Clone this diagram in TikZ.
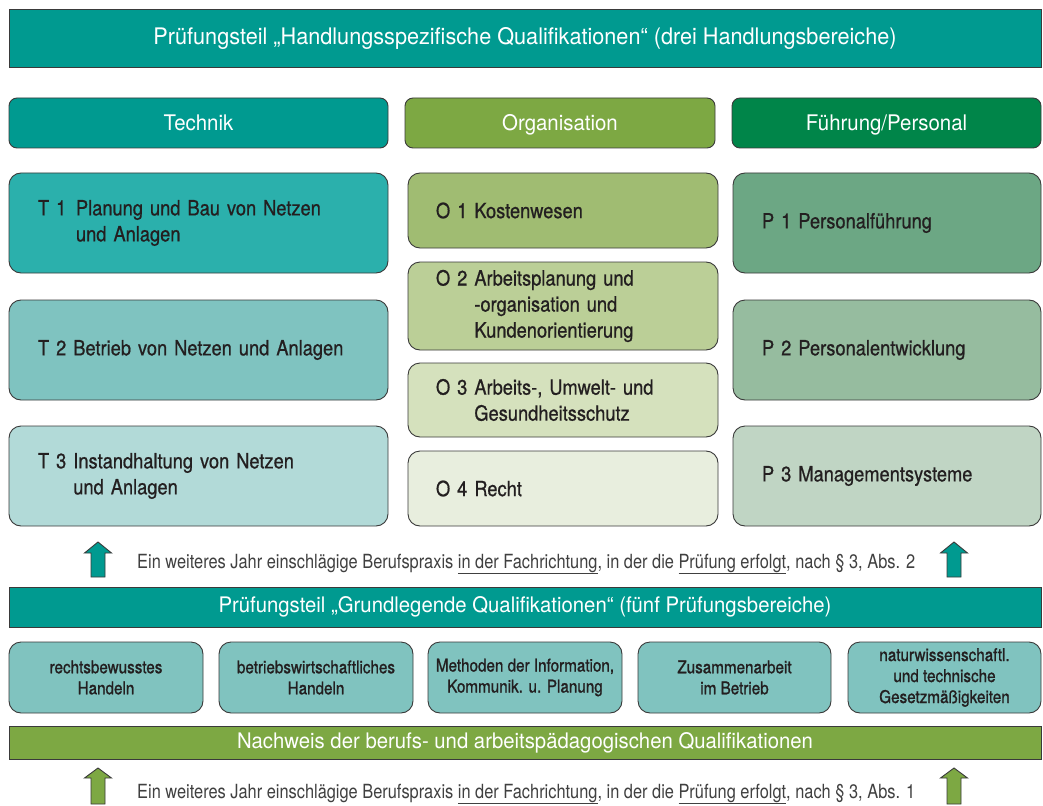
\documentclass[tikz,border=0pt]{standalone}
\usepackage{fontspec}
\setmainfont{TeX Gyre Heros}[FakeStretch=0.87, FakeBold=0.7]
\newfontfamily\headfont{TeX Gyre Heros}[FakeStretch=0.95]
\newfontfamily\notefont{TeX Gyre Heros}[FakeStretch=0.84]
\newfontfamily\partfont{TeX Gyre Heros}[FakeStretch=0.87, FakeBold=1.1]
\definecolor{lineclr}{HTML}{3A3A3A}
\definecolor{inkclr}{HTML}{231F20}
\definecolor{noteclr}{HTML}{404040}
\definecolor{tealmain}{HTML}{009A90}
\definecolor{greenmain}{HTML}{7DA843}
\definecolor{greendark}{HTML}{008549}
\definecolor{tA}{HTML}{2BB0AC}
\definecolor{tB}{HTML}{7FC3C0}
\definecolor{tC}{HTML}{B2DAD8}
\definecolor{oA}{HTML}{A0BC72}
\definecolor{oB}{HTML}{BBCF97}
\definecolor{oC}{HTML}{D5E1BD}
\definecolor{oD}{HTML}{E8EEDE}
\definecolor{pA}{HTML}{6CA784}
\definecolor{pB}{HTML}{96BC9F}
\definecolor{pC}{HTML}{C0D5C4}
\definecolor{basebox}{HTML}{80C3BF}
\begin{document}
\begin{tikzpicture}[x=1pt,y=-1pt,
  bx/.style={draw=lineclr, line width=0.9pt, anchor=north west, outer sep=0pt, inner ysep=0pt},
  banner/.style={bx, minimum width=1032pt, text=white, font=\headfont\fontsize{21.4}{26}\selectfont},
  headbox/.style={bx, rounded corners=8pt, minimum height=50pt, text height=19.6pt, text depth=4pt, text=white, font=\headfont\fontsize{21.5}{26}\selectfont},
  itembox/.style={bx, rounded corners=12pt, align=left, inner xsep=29pt, text=inkclr, font=\fontsize{21}{26}\selectfont},
  tbox/.style={itembox, text width=321pt, minimum height=100pt},
  obox/.style={itembox, inner xsep=28pt, text width=254pt},
  pbox/.style={itembox, text width=250pt, minimum height=100pt},
  basepart/.style={bx, rounded corners=12pt, fill=basebox, minimum height=71pt, align=center, text=inkclr, font=\partfont\fontsize{17.5}{21}\selectfont},
  note/.style={anchor=base west, inner sep=0pt, text=noteclr, font=\notefont\fontsize{19.5}{24}\selectfont},
  uparrow/.style={draw=lineclr, line width=0.9pt, line join=miter}
]
\useasboundingbox (0,0) rectangle (1043,805);
\fill[white] (0,0) rectangle (1043,805);

% top banner
\node[banner, fill=tealmain, minimum height=58pt, font=\headfont\fontsize{22.8}{26}\selectfont] (spec) at (9,9)
  {Prüfungsteil „Handlungsspezifische Qualifikationen“ (drei Handlungsbereiche)};

% column headers
\node[headbox, fill=tealmain, minimum width=379pt] (htech) at (9,98) {Technik};
\node[headbox, fill=greenmain, minimum width=310pt] (horg) at (405,98) {Organisation};
\node[headbox, fill=greendark, minimum width=309pt] (hpers) at (732,98) {Führung/Personal};

% Technik
\node[tbox, fill=tA] (t1) at (9,173)
  {\makebox[38pt][l]{T 1}Planung und Bau von Netzen\\\hspace*{38pt}und Anlagen};
\node[tbox, fill=tB] (t2) at (9,300) {T 2 Betrieb von Netzen und Anlagen};
\node[tbox, fill=tC] (t3) at (9,426)
  {T 3 Instandhaltung von Netzen\\\hspace*{0pt}\phantom{T 3 }und Anlagen};

% Organisation
\node[obox, fill=oA, minimum height=75pt] (o1) at (408,173) {O 1 Kostenwesen};
\node[obox, fill=oB, minimum height=88pt] (o2) at (408,262)
  {O 2 Arbeitsplanung und\\\hspace*{0pt}\phantom{O 2 }-organisation und\\\hspace*{0pt}\phantom{O 2 }Kundenorientierung};
\node[obox, fill=oC, minimum height=74pt] (o3) at (408,363)
  {O 3 Arbeits-, Umwelt- und\\\hspace*{0pt}\phantom{O 3 }Gesundheitsschutz};
\node[obox, fill=oD, minimum height=75pt] (o4) at (408,451) {O 4 Recht};

% Führung/Personal
\node[pbox, fill=pA] (p1) at (733,173) {P 1 Personalführung};
\node[pbox, fill=pB] (p2) at (733,300) {P 2 Personalentwicklung};
\node[pbox, fill=pC] (p3) at (733,426) {P 3 Managementsysteme};

% practice requirement, second stage
\node[note] (req2) at (137,568)
  {Ein weiteres Jahr einschlägige Berufspraxis \underline{in der Fachrichtung}, in der die \underline{Prüfung erfolgt}, nach § 3, Abs. 2};
\draw[uparrow, fill=tealmain] (98,542) -- (111.5,553) -- (105,553) -- (105,577) -- (91,577) -- (91,553) -- (84.5,553) -- cycle;
\draw[uparrow, fill=tealmain] (954,542) -- (967.5,553) -- (961,553) -- (961,577) -- (947,577) -- (947,553) -- (940.5,553) -- cycle;

% basic part
\node[banner, fill=tealmain, minimum height=40pt] (basic) at (9,587)
  {Prüfungsteil „Grundlegende Qualifikationen“ (fünf Prüfungsbereiche)};
\node[basepart, minimum width=194pt] (b1) at (9,642) {rechtsbewusstes\\Handeln};
\node[basepart, minimum width=194pt] (b2) at (219,642) {betriebswirtschaftliches\\Handeln};
\node[basepart, minimum width=194pt] (b3) at (428,642) {Methoden der Information,\\Kommunik. u. Planung};
\node[basepart, minimum width=193pt] (b4) at (638,642) {Zusammenarbeit\\im Betrieb};
\node[basepart, minimum width=193pt] (b5) at (848,642) {naturwissenschaftl.\\und technische\\Gesetzmäßigkeiten};

% pedagogical qualification
\node[banner, fill=greenmain, minimum height=33pt] (paed) at (9,726)
  {Nachweis der berufs- und arbeitspädagogischen Qualifikationen};

% practice requirement, first stage
\node[note] (req1) at (137,798)
  {Ein weiteres Jahr einschlägige Berufspraxis \underline{in der Fachrichtung}, in der die \underline{Prüfung erfolgt}, nach § 3, Abs. 1};
\draw[uparrow, fill=greenmain] (98,768) -- (111.5,778) -- (105,778) -- (105,804) -- (91,804) -- (91,778) -- (84.5,778) -- cycle;
\draw[uparrow, fill=greenmain] (954,768) -- (967.5,778) -- (961,778) -- (961,804) -- (947,804) -- (947,778) -- (940.5,778) -- cycle;
\end{tikzpicture}
\end{document}
